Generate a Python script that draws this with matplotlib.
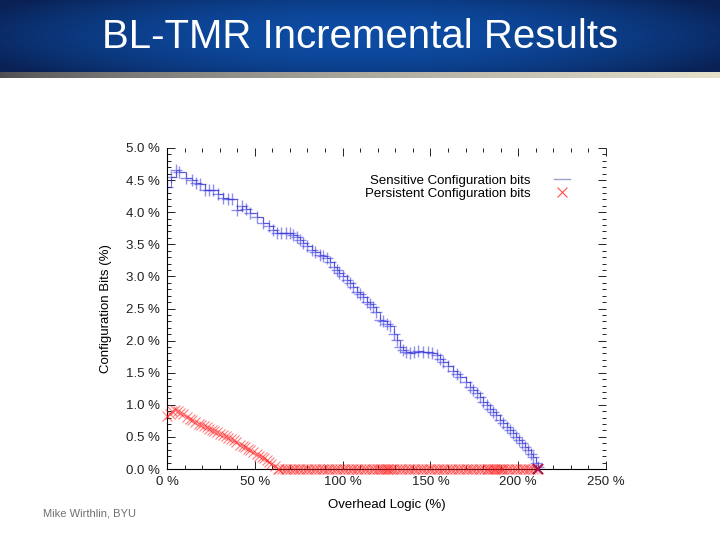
import numpy as np
import matplotlib
matplotlib.use("Agg")
from matplotlib import pyplot as plt
from matplotlib.lines import Line2D
from matplotlib.ticker import MultipleLocator, FuncFormatter

plt.rcParams['font.family'] = ['Liberation Sans', 'DejaVu Sans']

# sensitive configuration bits (overhead %, bits %)
blue_x = [0, 2, 5, 7, 11, 14, 16.5, 19, 21.6, 24, 26.2, 29, 32, 34.5, 36.8, 39.7, 42.5, 45,
          47.2, 51, 54.7, 58, 60.5, 62.5, 65, 68, 70, 72, 73.8, 75.5, 77.5, 80, 82.4, 84.5,
          87, 89, 91, 93, 95, 96.6, 98, 100, 102.3, 104, 106, 108, 110, 111.5, 113.7, 115.5,
          117.4, 119, 121.3, 123, 125, 127, 129, 130.8, 132.5, 134.6, 136, 138.4, 140.5,
          143.1, 146, 148.8, 151, 153.6, 155.5, 157.4, 160, 163, 165, 166.9, 170, 172.6,
          174.5, 176.4, 178.3, 180.1, 182, 184, 185.8, 187.5, 189.5, 191.5, 193.5, 195.5,
          197.2, 199, 200.5, 202, 204, 205.8, 207.5, 208.6, 210, 211.4]
blue_y = [4.40, 4.55, 4.66, 4.62, 4.53, 4.50, 4.46, 4.44, 4.35, 4.34, 4.35, 4.28, 4.22, 4.21,
          4.20, 4.03, 4.10, 4.05, 3.99, 3.93, 3.83, 3.78, 3.72, 3.67, 3.68, 3.67, 3.68, 3.65,
          3.62, 3.56, 3.52, 3.47, 3.41, 3.38, 3.33, 3.31, 3.28, 3.22, 3.15, 3.10, 3.06, 3.01,
          2.94, 2.90, 2.84, 2.76, 2.73, 2.68, 2.60, 2.57, 2.53, 2.44, 2.32, 2.30, 2.26, 2.22,
          2.10, 2.01, 1.90, 1.85, 1.82, 1.80, 1.83, 1.84, 1.82, 1.83, 1.80, 1.78, 1.72, 1.67,
          1.60, 1.52, 1.48, 1.44, 1.36, 1.28, 1.23, 1.18, 1.12, 1.05, 1.00, 0.94, 0.89, 0.84,
          0.77, 0.71, 0.66, 0.60, 0.56, 0.50, 0.45, 0.40, 0.35, 0.30, 0.24, 0.19, 0.10, 0.03]

# persistent configuration bits
red_x = [0, 1.5, 3, 4.6, 6, 7.5, 9, 11.2, 13, 14.5, 16, 18, 19.5, 21, 22.6, 24, 25.5, 27, 28.5,
         30, 32, 33.5, 35, 36.5, 38, 39.5, 41.6, 43, 44.5, 46, 47.5, 49, 51, 52.5, 54, 55.5,
         56.8, 58, 59.5, 61.5, 63,
         64, 65.5, 67, 68.5, 70, 71.5, 73, 74.5, 76, 77.5, 79, 80.5, 82, 83.5, 85, 86.5, 88,
         89.5, 91, 92.5, 94, 95.5, 97, 98.5, 100, 101.5, 103, 104.5, 106, 107.5, 109, 110.5,
         112, 113.5, 115, 116.5, 118, 119.5, 121, 122, 123, 124, 125, 126, 127, 128, 129.5,
         131, 132.5, 134, 135.5, 137, 138.5, 140, 141.5, 143, 144.5, 146, 147.5, 149, 150.5,
         152, 153.5, 155, 156.5, 158, 159.5, 161, 162.5, 164, 165.5, 167, 168.5, 170, 171.5,
         173, 174.5, 176, 177.5, 179, 180.5, 182, 183, 184, 185, 186, 187, 188, 189, 190,
         191, 192, 193.5, 195, 196.5, 198, 199.5, 201, 202.5, 204, 205.5, 207, 208.5, 210, 211]
red_y = [0.82, 0.86, 0.90, 0.92, 0.90, 0.88, 0.85, 0.81, 0.78, 0.76, 0.73, 0.70, 0.68, 0.67,
         0.66, 0.63, 0.61, 0.59, 0.57, 0.55, 0.53, 0.51, 0.49, 0.47, 0.45, 0.42, 0.37, 0.36,
         0.34, 0.31, 0.29, 0.27, 0.24, 0.21, 0.19, 0.17, 0.14, 0.11, 0.08, 0.04, 0.0]
red_y = red_y + [0.0] * (len(red_x) - len(red_y))

fig = plt.figure(figsize=(7.2, 5.4), dpi=100)
fig.patch.set_facecolor("white")

# title banner
ban = fig.add_axes([0, 1 - 72 / 540, 1, 72 / 540])
gx = np.linspace(-1, 1, 300)
gy = np.linspace(-1, 1, 40)
GX, GY = np.meshgrid(gx, gy)
t = np.clip(1 - 0.75 * GX ** 2 - 0.35 * GY ** 2, 0, 1)
c0 = np.array([0.04, 0.13, 0.33])
c1 = np.array([0.05, 0.30, 0.64])
img = c0[None, None, :] + (c1 - c0)[None, None, :] * t[:, :, None]
ban.imshow(img, aspect="auto", extent=[0, 1, 0, 1])
ban.text(0.5, 0.48, "BL-TMR Incremental Results", color="white", fontsize=29,
         ha="center", va="center")
ban.set_axis_off()

strip = fig.add_axes([0, 1 - 78 / 540, 1, 6 / 540])
sx = np.linspace(0, 1, 300)
s0 = np.array([0.30, 0.30, 0.32])
s1 = np.array([0.90, 0.88, 0.80])
simg = s0[None, None, :] + (s1 - s0)[None, None, :] * sx[None, :, None] ** 0.7
strip.imshow(np.repeat(simg, 4, axis=0), aspect="auto", extent=[0, 1, 0, 1])
strip.set_axis_off()

ax = fig.add_axes([167 / 720, 1 - 469 / 540, 439 / 720, 321 / 540])
ax.step(blue_x, blue_y, where="post", color="#2a2a9a", lw=0.7, alpha=0.6)
ax.plot(blue_x, blue_y, ls="none", marker="+", ms=8.5, mew=1.0, color="#3535e0", alpha=0.55)
ax.plot(red_x, red_y, ls="none", marker="x", ms=6.5, mew=0.8, color="#ff1a1a", alpha=0.55,
        clip_on=False, zorder=3)
ax.plot([211], [0], ls="none", marker="x", ms=7, mew=1.3, color="#a01050", clip_on=False,
        zorder=4)

ax.set_xlim(0, 250)
ax.set_ylim(0, 5.0)
ax.xaxis.set_major_locator(MultipleLocator(50))
ax.xaxis.set_minor_locator(MultipleLocator(10))
ax.yaxis.set_major_locator(MultipleLocator(0.5))
ax.yaxis.set_minor_locator(MultipleLocator(0.1))
ax.xaxis.set_major_formatter(FuncFormatter(lambda v, p: "%d %%" % v))
ax.yaxis.set_major_formatter(FuncFormatter(lambda v, p: "%.1f %%" % v))
ax.tick_params(which="both", direction="in", top=True, right=True, labelsize=9.5,
               colors="#222222", width=0.7)
ax.tick_params(which="major", length=6, pad=5)
ax.tick_params(which="minor", length=3)
ax.spines["top"].set_visible(False)
ax.spines["right"].set_visible(False)
ax.set_xlabel("Overhead Logic (%)", fontsize=9.5, labelpad=8)
ax.set_ylabel("Configuration Bits (%)", fontsize=9.5, labelpad=10)

handles = [Line2D([], [], color="#9aa0c8", lw=1.0),
           Line2D([], [], ls="none", marker="x", ms=7, mew=0.8, color="#ff5050")]
ax.legend(handles, ["Sensitive Configuration bits", "Persistent Configuration bits"],
          loc="upper right", bbox_to_anchor=(0.945, 0.955), frameon=False, markerfirst=False,
          fontsize=9.5, handlelength=1.2, labelspacing=0.1, handletextpad=1.8)

fig.text(43 / 720, 1 - 514 / 540, "Mike Wirthlin, BYU", fontsize=8, color="#707070",
         va="center")

fig.savefig("out.png", dpi=100)
